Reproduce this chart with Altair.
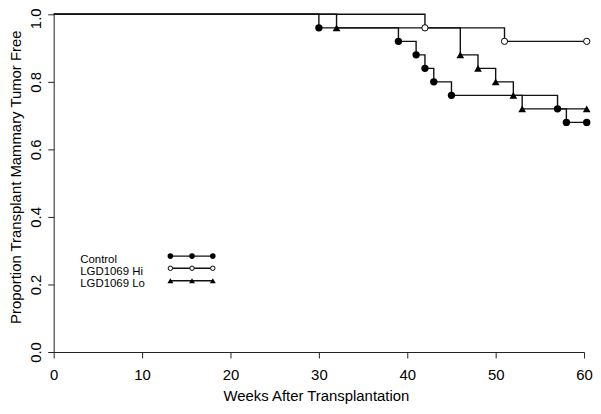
import altair as alt
import pandas as pd

# Kaplan-Meier style data (weeks, proportion tumor free)
ctrl_t = [0, 30, 39, 41, 42, 43, 45, 57, 58, 60.3]
ctrl_s = [1.0, 0.96, 0.92, 0.88, 0.84, 0.80, 0.76, 0.72, 0.68, 0.68]
hi_t = [0, 42, 51, 60.3]
hi_s = [1.0, 0.96, 0.92, 0.92]
lo_t = [0, 32, 46, 48, 50, 52, 53, 60.3]
lo_s = [1.0, 0.96, 0.88, 0.84, 0.80, 0.76, 0.72, 0.72]

groups = ["Control", "LGD1069 Hi", "LGD1069 Lo"]

# in-plot legend (data coordinates)
leg_sym_x = [13.2, 15.65, 18.0]
leg_sym_y = [0.284, 0.248, 0.211]
leg_text_x = 3.0
leg_text_y = [0.2645, 0.228, 0.192]

x_ticks = [0, 10, 20, 30, 40, 50, 60]
y_ticks = [0, 0.2, 0.4, 0.6, 0.8, 1.0]

FONT = "Liberation Sans"

def frame(name, t, s):
    return pd.DataFrame({"group": name, "t": t, "s": s})

lines_df = pd.concat([frame("Control", ctrl_t, ctrl_s),
                      frame("LGD1069 Hi", hi_t, hi_s),
                      frame("LGD1069 Lo", lo_t, lo_s)], ignore_index=True)
pts_df = lines_df[lines_df["t"] > 0]

leg_rows = []
for g, y in zip(groups, leg_sym_y):
    for x in leg_sym_x:
        leg_rows.append({"group": g, "t": x, "s": y})
leg_df = pd.DataFrame(leg_rows)
leg_txt = pd.DataFrame({"group": groups, "t": [leg_text_x] * 3, "s": leg_text_y})

xscale = alt.Scale(domain=[0, 60], nice=False, zero=False)
yscale = alt.Scale(domain=[0, 1], nice=False)

xaxis = alt.Axis(values=x_ticks, title="Weeks After Transplantation",
                 grid=False, tickSize=6, labelPadding=21.5, labelBaseline="alphabetic",
                 labelFontSize=15, titleFontSize=15, titleFontWeight="normal",
                 titleX=264, titleY=49, titleAlign="center", titleBaseline="alphabetic",
                 labelFont=FONT, titleFont=FONT, labelColor="black", titleColor="black",
                 domainColor="#222", tickColor="#222", labelFlush=False)
yaxis = alt.Axis(values=y_ticks, format=".1f",
                 title="Proportion Transplant Mammary Tumor Free",
                 grid=False, tickSize=6, labelPadding=7.3, labelAngle=270,
                 labelAlign="center", labelBaseline="alphabetic",
                 labelOffset=alt.condition("datum.value == 1", alt.value(4), alt.value(0)),
                 labelFontSize=15, titleFontSize=15, titleFontWeight="normal",
                 titleAngle=270, titleX=-33, titleY=163.5, titleAlign="center",
                 titleBaseline="alphabetic",
                 labelFont=FONT, titleFont=FONT, labelColor="black", titleColor="black",
                 domainColor="#222", tickColor="#222", labelFlush=False)

curves = alt.Chart(lines_df).mark_line(interpolate="step-after", strokeWidth=1.4, color="#111").encode(
    x=alt.X("t:Q", scale=xscale, axis=xaxis),
    y=alt.Y("s:Q", scale=yscale, axis=yaxis),
    detail="group:N",
)

def markers(df, shape, filled, size, strokeWidth=1):
    if filled:
        m = alt.Chart(df).mark_point(shape=shape, filled=True, size=size, color="black", opacity=1)
    else:
        m = alt.Chart(df).mark_point(shape=shape, filled=False, size=size, stroke="black",
                                     fill="white", fillOpacity=1, strokeWidth=strokeWidth, opacity=1)
    return m.encode(x=alt.X("t:Q", scale=xscale), y=alt.Y("s:Q", scale=yscale))

ctrl_pts = markers(pts_df[pts_df.group == "Control"], "circle", True, 55)
hi_pts = markers(pts_df[pts_df.group == "LGD1069 Hi"], "circle", False, 40)
lo_pts = markers(pts_df[pts_df.group == "LGD1069 Lo"], "triangle-up", True, 60)

leg_lines = alt.Chart(leg_df).mark_line(strokeWidth=1.3, color="#111").encode(
    x=alt.X("t:Q", scale=xscale), y=alt.Y("s:Q", scale=yscale), detail="group:N")
leg_ctrl = markers(leg_df[leg_df.group == "Control"], "circle", True, 32)
leg_hi = markers(leg_df[leg_df.group == "LGD1069 Hi"], "circle", False, 20)
leg_lo = markers(leg_df[leg_df.group == "LGD1069 Lo"], "triangle-up", True, 36)

leg_text = alt.Chart(leg_txt).mark_text(align="left", baseline="alphabetic", fontSize=11.5,
                                        font=FONT, color="black").encode(
    x=alt.X("t:Q", scale=xscale), y=alt.Y("s:Q", scale=yscale), text="group:N")

chart = alt.layer(curves, ctrl_pts, hi_pts, lo_pts, leg_lines, leg_ctrl, leg_hi, leg_lo, leg_text).properties(
    width=534, height=340,
    autosize=alt.AutoSizeParams(type="none"),
    padding={"left": 46, "top": 5, "right": 9, "bottom": 52},
    background="white",
).configure_view(stroke=None)

chart.save("out.html", embed_options={"renderer": "svg", "actions": False})
